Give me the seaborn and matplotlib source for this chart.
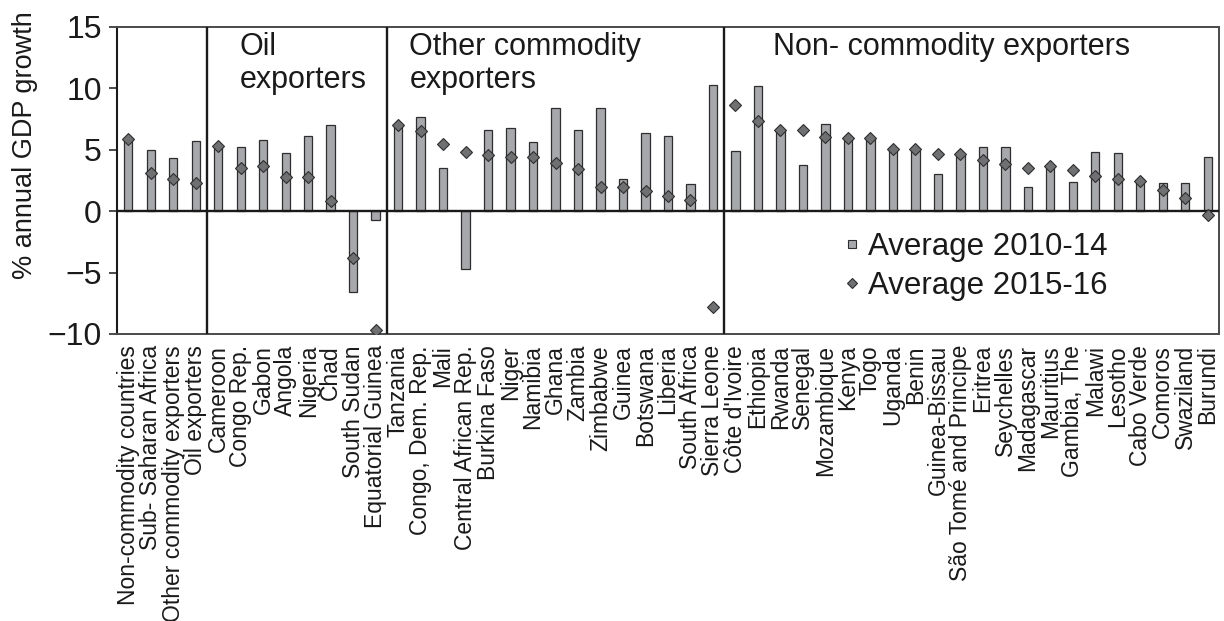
import matplotlib
matplotlib.use("Agg")
import matplotlib.pyplot as plt
from matplotlib.lines import Line2D
import seaborn as sns
import pandas as pd

countries = [
    "Non-commodity countries", "Sub- Saharan Africa", "Other commodity exporters", "Oil exporters",
    "Cameroon", "Congo Rep.", "Gabon", "Angola", "Nigeria", "Chad", "South Sudan", "Equatorial Guinea",
    "Tanzania", "Congo, Dem. Rep.", "Mali", "Central African Rep.", "Burkina Faso", "Niger", "Namibia",
    "Ghana", "Zambia", "Zimbabwe", "Guinea", "Botswana", "Liberia", "South Africa", "Sierra Leone",
    "Côte d'Ivoire", "Ethiopia", "Rwanda", "Senegal", "Mozambique", "Kenya", "Togo", "Uganda", "Benin",
    "Guinea-Bissau", "São Tomé and Principe", "Eritrea", "Seychelles", "Madagascar", "Mauritius",
    "Gambia, The", "Malawi", "Lesotho", "Cabo Verde", "Comoros", "Swaziland", "Burundi",
]
avg_2010_14 = [
    5.8, 5.0, 4.3, 5.7,
    5.3, 5.2, 5.8, 4.7, 6.1, 7.0, -6.6, -0.7,
    7.0, 7.7, 3.5, -4.7, 6.6, 6.8, 5.6, 8.4, 6.6, 8.4, 2.6, 6.4, 6.1, 2.2, 10.3,
    4.9, 10.2, 6.6, 3.8, 7.1, 6.0, 6.0, 5.0, 5.0, 3.0, 4.6, 5.2, 5.2, 2.0, 3.6,
    2.4, 4.8, 4.7, 2.4, 2.3, 2.3, 4.4,
]
avg_2015_16 = [
    5.85, 3.1, 2.6, 2.3,
    5.3, 3.5, 3.7, 2.75, 2.75, 0.8, -3.8, -9.7,
    7.0, 6.5, 5.5, 4.85, 4.6, 4.4, 4.4, 3.9, 3.45, 2.0, 2.0, 1.65, 1.25, 0.95, -7.8,
    8.65, 7.35, 6.65, 6.65, 6.05, 5.95, 6.0, 5.1, 5.1, 4.65, 4.65, 4.2, 3.85, 3.55, 3.7,
    3.35, 2.85, 2.65, 2.45, 1.7, 1.05, -0.35,
]
group_sizes = [4, 8, 15, 22]
group_names = ["", "Oil\nexporters", "Other commodity\nexporters", "Non- commodity exporters"]
yticks = [15, 10, 5, 0, -5, -10]

df = pd.DataFrame({"country": countries, "a": avg_2010_14, "b": avg_2015_16})

sns.set_theme(style="white")
plt.rcParams["font.family"] = ["Liberation Sans", "DejaVu Sans"]

bar_color = "#A7A8AB"
dia_color = "#6F7072"
edge = "#2E2E2E"
ink = "#1a1a1a"

fig = plt.figure(figsize=(12.24, 6.21), dpi=100)
ax = fig.add_axes([117 / 1224, 1 - 334 / 621, 1102 / 1224, 307 / 621])

sns.barplot(data=df, x="country", y="a", order=countries, color=bar_color,
            width=0.37, edgecolor=edge, linewidth=0.9, saturation=1, ax=ax, zorder=2)
sns.pointplot(data=df, x="country", y="b", order=countries, color=dia_color,
              linestyle="none", marker="D", markersize=6.3, markeredgecolor=edge,
              markeredgewidth=0.8, errorbar=None, ax=ax, zorder=4)

ax.set_xlim(-0.5, len(countries) - 0.5)
ax.set_ylim(-10, 15)
ax.set_yticks(yticks)
ax.axhline(0, color=ink, lw=1.7, zorder=3)

start = 0
for size, name in zip(group_sizes, group_names):
    if start > 0:
        ax.axvline(start - 0.5, color=ink, lw=1.7, zorder=3)
    start += size

txt_kw = dict(fontsize=22, va="top", ha="left", color=ink, linespacing=1.15)
ax.text(4.95, 14.6, group_names[1], **txt_kw)
ax.text(12.5, 14.6, group_names[2], **txt_kw)
ax.text(28.65, 14.6, group_names[3], **txt_kw)

for s in ["top", "right", "bottom"]:
    ax.spines[s].set_color("#4a4a4a")
    ax.spines[s].set_linewidth(1.4)
ax.spines["left"].set_color(ink)
ax.spines["left"].set_linewidth(1.5)

ax.tick_params(axis="y", which="both", left=True, length=6, width=1.1, color=ink,
               labelsize=23, pad=5, labelcolor=ink)
ax.tick_params(axis="x", length=0, pad=8, labelsize=16.5, labelcolor=ink)
ax.set_xticks(range(len(countries)))
ax.set_xticklabels(countries, rotation=90)
ax.set_xlabel("")
ax.set_ylabel("% annual GDP growth", fontsize=19.5, color=ink)
ax.yaxis.set_label_coords(-0.072, 0.616)

handles = [
    Line2D([], [], linestyle="none", marker="s", markersize=6, markerfacecolor=bar_color,
           markeredgecolor=edge, markeredgewidth=0.8),
    Line2D([], [], linestyle="none", marker="D", markersize=5.5, markerfacecolor=dia_color,
           markeredgecolor=edge, markeredgewidth=0.8),
]
ax.legend(handles, ["Average 2010-14", "Average 2015-16"], loc="upper left",
          bbox_to_anchor=((843 - 117) / 1102, (334 - 232) / 307), frameon=False,
          fontsize=22.5, handlelength=0.6, handletextpad=0.2, labelspacing=0.3,
          borderpad=0, borderaxespad=0, labelcolor=ink)

fig.savefig("out.png", dpi=100)
